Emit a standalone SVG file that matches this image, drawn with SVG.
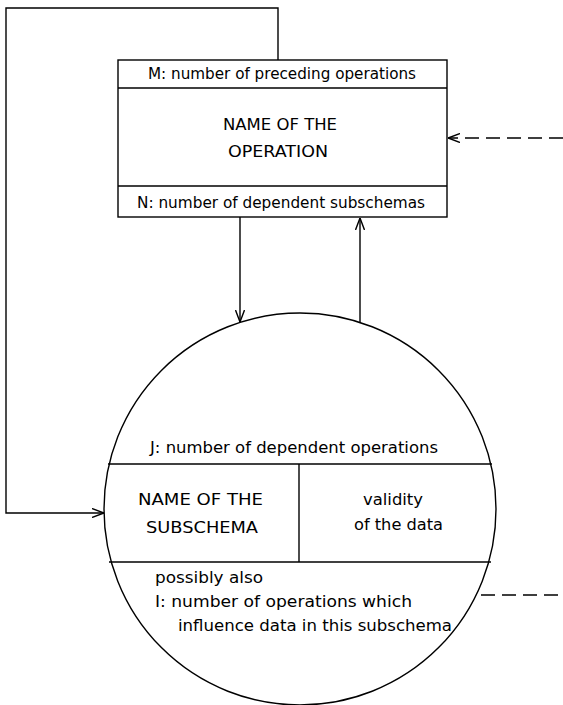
<svg xmlns="http://www.w3.org/2000/svg" width="563" height="705" viewBox="0 0 563 705">
  <style>
    .ln { fill: none; stroke: #000; stroke-width: 1.4; }
    .dash { fill: none; stroke: #000; stroke-width: 1.4; stroke-dasharray: 14 7; }
    text { font-family: "DejaVu Sans", "Liberation Sans", sans-serif; font-size: 16px; fill: #000; }
    .c { text-anchor: middle; }
  </style>
  <defs>
    <marker id="arr" viewBox="0 0 12 10" refX="12" refY="5" markerWidth="12" markerHeight="10" markerUnits="userSpaceOnUse" orient="auto">
      <path d="M0,0.5 L12,5 L0,9.5" fill="none" stroke="#000" stroke-width="1.4"/>
    </marker>
  </defs>
  <rect width="563" height="705" fill="#fff"/>

  <!-- operation record -->
  <g id="operation">
    <rect class="ln" x="118" y="60" width="329" height="157"/>
    <line class="ln" x1="118" y1="88" x2="447" y2="88"/>
    <line class="ln" x1="118" y1="186" x2="447" y2="186"/>
    <text class="c" x="282" y="79" textLength="268" lengthAdjust="spacingAndGlyphs">M: number of preceding operations</text>
    <text class="c" x="280" y="130" textLength="114" lengthAdjust="spacingAndGlyphs">NAME OF THE</text>
    <text class="c" x="278" y="157" textLength="100" lengthAdjust="spacingAndGlyphs">OPERATION</text>
    <text class="c" x="281" y="208" textLength="288" lengthAdjust="spacingAndGlyphs">N: number of dependent subschemas</text>
  </g>

  <!-- subschema record -->
  <g id="subschema">
    <circle class="ln" cx="300" cy="509" r="196"/>
    <line class="ln" x1="108" y1="464" x2="492" y2="464"/>
    <line class="ln" x1="109" y1="562" x2="491" y2="562"/>
    <line class="ln" x1="299" y1="464" x2="299" y2="562"/>
    <text class="c" x="294" y="453" textLength="288" lengthAdjust="spacingAndGlyphs">J: number of dependent operations</text>
    <text class="c" x="200.5" y="505" textLength="125" lengthAdjust="spacingAndGlyphs">NAME OF THE</text>
    <text class="c" x="202" y="533" textLength="112" lengthAdjust="spacingAndGlyphs">SUBSCHEMA</text>
    <text class="c" x="393" y="505" textLength="60" lengthAdjust="spacingAndGlyphs">validity</text>
    <text class="c" x="398.5" y="530" textLength="89" lengthAdjust="spacingAndGlyphs">of the data</text>
    <text x="155" y="583" textLength="108" lengthAdjust="spacingAndGlyphs">possibly also</text>
    <text x="155" y="607" textLength="257" lengthAdjust="spacingAndGlyphs">I: number of operations which</text>
    <text x="178" y="631" textLength="274" lengthAdjust="spacingAndGlyphs">influence data in this subschema</text>
  </g>

  <!-- connectors -->
  <g id="connectors">
    <polyline class="ln" points="278,60 278,8 6,8 6,513 104,513" marker-end="url(#arr)"/>
    <line class="ln" x1="240" y1="217" x2="240" y2="322" marker-end="url(#arr)"/>
    <line class="ln" x1="360" y1="323" x2="360" y2="218" marker-end="url(#arr)"/>
    <line class="dash" x1="563" y1="138" x2="448" y2="138" marker-end="url(#arr)"/>
    <line class="dash" x1="481" y1="595" x2="563" y2="595"/>
  </g>
</svg>
